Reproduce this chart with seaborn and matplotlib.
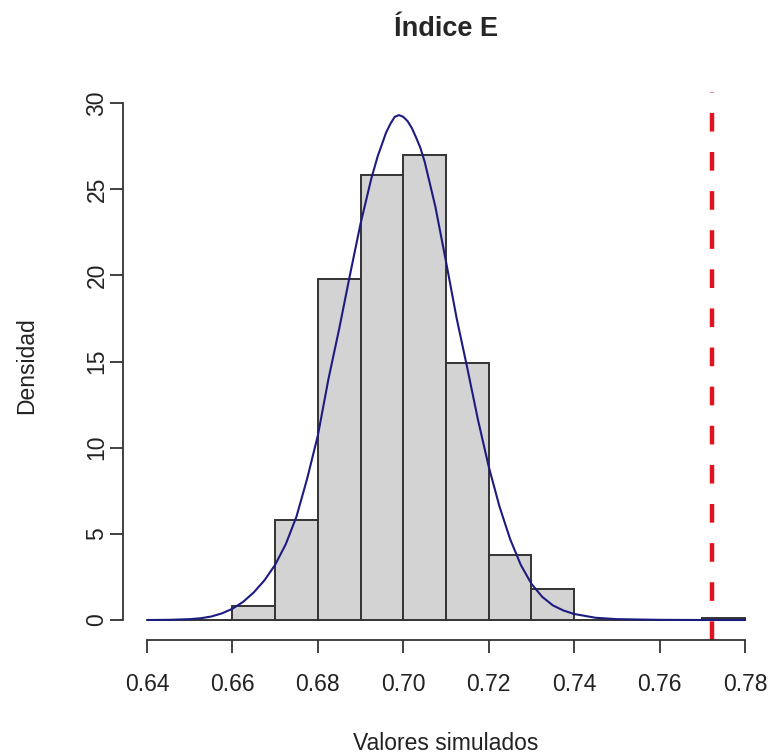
import numpy as np
import pandas as pd
import seaborn as sns
import matplotlib
matplotlib.use("Agg")
import matplotlib.pyplot as plt

# histogram bins (width 0.01) and their density heights
bin_edges = [0.64, 0.65, 0.66, 0.67, 0.68, 0.69, 0.70, 0.71, 0.72, 0.73, 0.74, 0.75, 0.76, 0.77, 0.78]
bin_density = [0.0, 0.0, 0.8, 5.8, 19.8, 25.8, 27.0, 14.9, 3.8, 1.8, 0.0, 0.0, 0.0, 0.1]

# density curve drawn over the bars
curve_x = [0.640, 0.645, 0.650, 0.6525, 0.655, 0.6575, 0.660, 0.6625, 0.665, 0.6675,
           0.670, 0.6725, 0.675, 0.6775, 0.680, 0.6825, 0.685, 0.6875, 0.690, 0.6925,
           0.694, 0.695, 0.696, 0.697, 0.698, 0.699, 0.700, 0.701, 0.702, 0.703,
           0.704, 0.705, 0.7075, 0.710, 0.7125, 0.715,
           0.7175, 0.720, 0.7225, 0.725, 0.7275, 0.730, 0.7325, 0.735, 0.7375, 0.740,
           0.745, 0.750, 0.760, 0.770, 0.780]
curve_y = [0.0, 0.01, 0.05, 0.1, 0.2, 0.38, 0.65, 1.05, 1.6, 2.3,
           3.2, 4.4, 6.0, 8.2, 10.7, 14.0, 16.9, 20.0, 23.0, 25.6,
           26.9, 27.6, 28.3, 28.8, 29.2, 29.3, 29.2, 28.95, 28.55, 28.0,
           27.4, 26.6, 24.0, 20.8, 17.5, 14.6,
           11.6, 8.9, 6.6, 4.7, 3.2, 2.1, 1.35, 0.85, 0.55, 0.35,
           0.13, 0.05, 0.01, 0.0, 0.0]

observed = 0.7723

x_ticks = [0.64, 0.66, 0.68, 0.70, 0.72, 0.74, 0.76, 0.78]
y_ticks = [0, 5, 10, 15, 20, 25, 30]

sns.set_style("ticks")
plt.rcParams['font.family'] = ['Liberation Sans', 'DejaVu Sans']

hist_df = pd.DataFrame({
    "centro": np.array(bin_edges[:-1]) + 0.005,
    "densidad": bin_density,
})

fig = plt.figure(figsize=(7.69, 7.56), dpi=100)
ax = fig.add_axes([123 / 769, 116 / 756, 1 - 123 / 769, (640 - 92) / 756])

sns.histplot(data=hist_df, x="centro", weights="densidad", bins=bin_edges,
             stat="count", color="#d3d3d3", alpha=1, edgecolor="#333333",
             linewidth=1.4, ax=ax)
sns.lineplot(x=curve_x, y=curve_y, color="#1c1c80", linewidth=1.5, ax=ax)
ax.axvline(observed, color="#e0141e", linewidth=3.2, linestyle=(0, (4.2, 4.6)))

ax.set_xlim(0.6344, 0.7856)
ax.set_ylim(-1.16, 30.64)

ax.set_xticks(x_ticks)
ax.set_xticklabels([f"{t:.2f}" for t in x_ticks])
ax.set_yticks(y_ticks)
ax.set_yticklabels([str(t) for t in y_ticks], rotation=90, va="center")

for side in ["top", "right"]:
    ax.spines[side].set_visible(False)
ax.spines["left"].set_bounds(0, 30)
ax.spines["bottom"].set_bounds(0.64, 0.78)
for side in ["left", "bottom"]:
    ax.spines[side].set_color("#333333")
    ax.spines[side].set_linewidth(1.3)

ax.tick_params(axis="both", length=9.5, width=1.3, color="#333333",
               labelsize=16.5, labelcolor="#222222")
ax.tick_params(axis="x", pad=14)
ax.tick_params(axis="y", pad=1)

ax.set_xlabel("Valores simulados", fontsize=16.5, color="#222222", labelpad=26)
ax.set_ylabel("Densidad", fontsize=16.5, color="#222222", labelpad=34)
ax.set_title("Índice E", fontsize=19.5, fontweight="bold", pad=40)

fig.savefig("out.png", dpi=100)
